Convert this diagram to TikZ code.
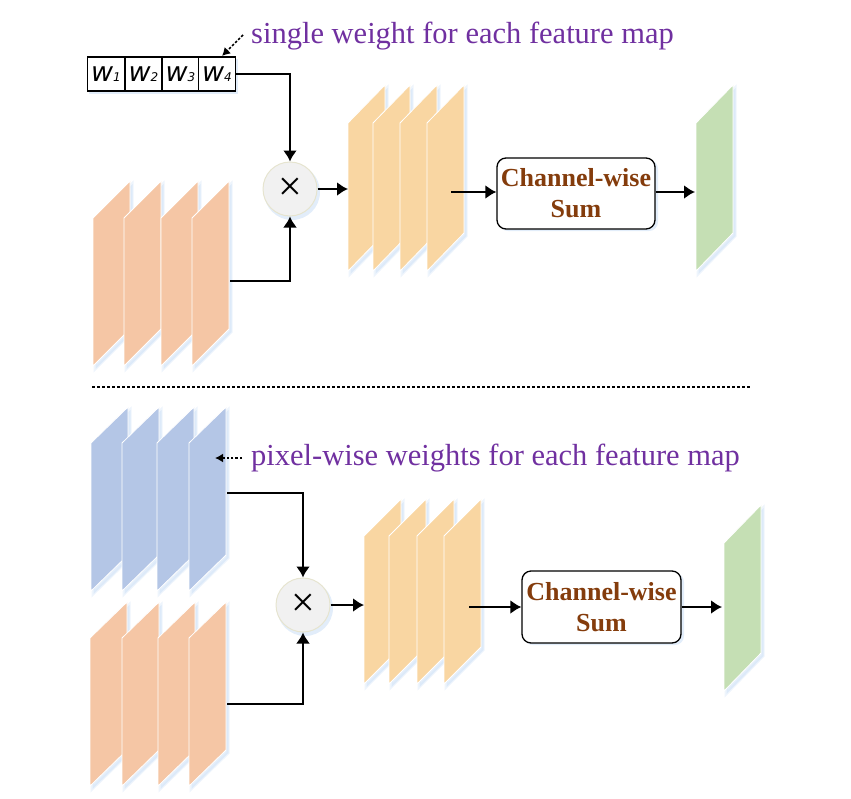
\documentclass[tikz,border=0pt]{standalone}
\usepackage{fontspec}
\setmainfont{Liberation Serif}
\newfontfamily\wfont{DejaVu Sans}
\usetikzlibrary{arrows.meta}
\definecolor{fmorange}{HTML}{F5C6A5}
\definecolor{fmgold}{HTML}{F9D6A2}
\definecolor{fmblue}{HTML}{B4C6E6}
\definecolor{fmgreen}{HTML}{C5DFB4}
\definecolor{glowc}{HTML}{CFE1F6}
\definecolor{txtpurple}{HTML}{7030A0}
\definecolor{txtbrown}{HTML}{843C0C}
\definecolor{circfill}{HTML}{F1F1F1}
\definecolor{circdraw}{HTML}{E6E4CF}
\newcommand\fmapat[4]{% color, x, ytop, skew
  \fill[glowc,opacity=.55] ([shift={(2.5,3)}]#2,#3+#4) -- ++(37,-#4) -- ++(0,148) -- ++(-37,#4) -- cycle;
  \draw[glowc,opacity=.35,line width=3pt] ([shift={(2,3)}]#2,#3+#4) -- ++(37,-#4) -- ++(0,148) -- ++(-37,#4) -- cycle;
  \filldraw[fill=#1,draw=white,line width=.8pt] (#2,#3+#4) -- ++(37,-#4) -- ++(0,148) -- ++(-37,#4) -- cycle;
}
\tikzset{
  conn/.style={line width=2pt,-{Latex[length=11pt,width=14pt]}},
  hint/.style={line width=1.7pt,dash pattern=on 2.5pt off 1.8pt,-{Latex[length=8pt,width=9pt]}},
  mult/.style={circle,minimum size=54pt,inner sep=0pt,fill=circfill,draw=circdraw,line width=1pt},
  sumbox/.style={draw=black,line width=1.3pt,fill=white,rounded corners=9pt,minimum width=158pt,minimum height=71pt,align=center,inner sep=0pt,font=\bfseries\fontsize{26}{31}\selectfont,text=txtbrown},
  wcell/.style={draw=black,line width=1.1pt,fill=white,minimum width=37pt,minimum height=34pt,inner sep=0pt},
  label/.style={anchor=base west,inner sep=0pt,text=txtpurple,font=\fontsize{30.5}{36}\selectfont},
}
\newcommand\wsub[1]{{\wfont\itshape\fontsize{27}{27}\selectfont w\fontsize{12}{12}\selectfont #1}}
\newcommand\timesglyph{{\fontsize{42}{42}\selectfont ×}}
\begin{document}
\begin{tikzpicture}[x=1pt,y=-1pt]
\useasboundingbox (0,0) rectangle (851,798);
% ---------------- top half ----------------
% weight vector
\fill[glowc,opacity=.6] (89,59) rectangle (238,94);
\node[wcell] (w1) at (106,74) {\wsub{1}};
\node[wcell] (w2) at (143.5,74) {\wsub{2}};
\node[wcell] (w3) at (180.5,74) {\wsub{3}};
\node[wcell] (w4) at (217,74) {\wsub{4}};
\node[label] (lab1) at (251,43) {single weight for each feature map};
\coordinate (h1s) at (243,35);
\coordinate (h1e) at (222,56);
\draw[hint] (h1s) -- (h1e);
% input stack
\fmapat{fmorange}{93}{181}{37}
\fmapat{fmorange}{124}{181}{37}
\fmapat{fmorange}{161}{181}{37}
\fmapat{fmorange}{192}{181}{37}
\coordinate (a4out) at (230,281);
% multiply
\fill[glowc,opacity=.6] (292,192) circle (28pt);
\node[mult] (c1) at (290,189) {};
\node[inner sep=0pt] (x1) at (c1.center) {\timesglyph};
\draw[conn] (w4.east) -| (c1.north);
\draw[conn] (a4out) -| (c1.south);
% weighted stack
\fmapat{fmgold}{348}{85}{38}
\fmapat{fmgold}{373}{85}{38}
\fmapat{fmgold}{400}{85}{38}
\fmapat{fmgold}{427}{85}{38}
\coordinate (m1in) at (348,189);
\coordinate (m4out) at (451,192);
\draw[conn] (c1.east) -- (m1in);
% sum
\fill[glowc,opacity=.6,rounded corners=9pt] (499,160) rectangle (658,231);
\node[sumbox] (s1) at (576,193.5) {Channel-wise\\Sum};
\draw[conn] (m4out) -- (s1.west |- m4out);
\fmapat{fmgreen}{696}{85}{38}
\coordinate (g1in) at (695,192);
\draw[conn] (s1.east |- g1in) -- (g1in);
% separator
\coordinate (sepL) at (92,386.5);
\coordinate (sepR) at (750,386.5);
\draw[line width=2pt,dash pattern=on 3pt off 2pt] (sepL) -- (sepR);
% ---------------- bottom half ----------------
\fmapat{fmblue}{91}{407}{36}
\fmapat{fmblue}{122}{407}{36}
\fmapat{fmblue}{157}{407}{36}
\fmapat{fmblue}{189}{407}{36}
\coordinate (b4out) at (227,493);
\node[label] (lab2) at (251,465) {pixel-wise weights for each feature map};
\coordinate (h2s) at (242,458);
\coordinate (h2e) at (215,458);
\draw[hint] (h2s) -- (h2e);
\fmapat{fmorange}{90}{602}{36}
\fmapat{fmorange}{122}{602}{36}
\fmapat{fmorange}{158}{602}{36}
\fmapat{fmorange}{189}{602}{36}
\coordinate (o4out) at (227,704);
\fill[glowc,opacity=.6] (305,608) circle (28pt);
\node[mult] (c2) at (303,605) {};
\node[inner sep=0pt] (x2) at (c2.center) {\timesglyph};
\draw[conn] (b4out) -| (c2.north);
\draw[conn] (o4out) -| (c2.south);
\fmapat{fmgold}{364}{499}{37}
\fmapat{fmgold}{389}{499}{37}
\fmapat{fmgold}{417}{499}{37}
\fmapat{fmgold}{444}{499}{37}
\coordinate (n1in) at (364,605);
\coordinate (n4out) at (469,607);
\draw[conn] (c2.east) -- (n1in);
\fill[glowc,opacity=.6,rounded corners=9pt] (524,573) rectangle (684,645);
\node[sumbox,minimum width=159pt,minimum height=72pt] (s2) at (601.5,607) {Channel-wise\\Sum};
\draw[conn] (n4out) -- (s2.west |- n4out);
\fmapat{fmgreen}{724}{505}{38}
\coordinate (g2in) at (722,607);
\draw[conn] (s2.east |- g2in) -- (g2in);
\end{tikzpicture}
\end{document}
